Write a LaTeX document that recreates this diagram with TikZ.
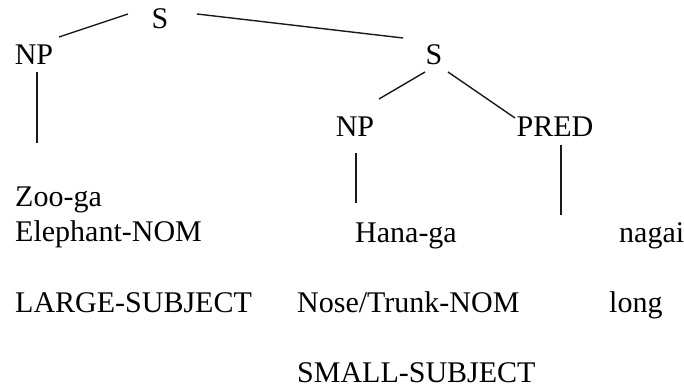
\documentclass[tikz,border=0pt]{standalone}
\usepackage{fontspec}
\setmainfont{Liberation Serif}
\usetikzlibrary{calc}
\tikzset{
  cat/.style={anchor=base, inner sep=0pt, font=\fontsize{30}{36}\selectfont},
  word/.style={anchor=base west, inner sep=0pt, font=\fontsize{30}{36}\selectfont},
  branch/.style={line width=1.4pt, color=black!90}
}

\begin{document}
\begin{tikzpicture}[x=1pt, y=1pt]
  \useasboundingbox (0,0) rectangle (684,390);

  % category labels
  \node[cat] (s0) at (160,361) {S};
  \node[cat] (np1) at (34,325) {NP};
  \node[cat] (s1) at (434,325) {S};
  \node[cat] (np2) at (355,253) {NP};
  \node[cat] (pred) at (555,253) {PRED};

  % words and glosses
  \node[word] (zoo) at (15,183) {Zoo-ga};
  \node[word] (eleph) at (15,148) {Elephant-NOM};
  \node[word] (large) at (15,77) {LARGE-SUBJECT};
  \node[word] (hana) at (355,147) {Hana-ga};
  \node[word] (nagai) at (619,147) {nagai};
  \node[word] (nose) at (297,77) {Nose/Trunk-NOM};
  \node[word] (long) at (609,77) {long};
  \node[word] (small) at (297,7) {SMALL-SUBJECT};

  % branches
  \draw[branch] ([shift={(-32,15)}]s0.base) -- ([shift={(25,28)}]np1.base);
  \draw[branch] ([shift={(37,15)}]s0.base) -- ([shift={(-31,27)}]s1.base);
  \draw[branch] ([shift={(-9,-7)}]s1.base) -- ([shift={(24,38)}]np2.base);
  \draw[branch] ([shift={(14,-7)}]s1.base) -- ([shift={(-40,19)}]pred.base);

  % stems down to the words
  \draw[branch] ([shift={(3,-7)}]np1.base) -- ($(np1.base |- zoo.north)+(3,44)$);
  \draw[branch] ([shift={(1,-16)}]np2.base) -- ($(np2.base |- hana.north)+(1,20)$);
  \draw[branch] ([shift={(6,-8)}]pred.base) -- ($(pred.base |- nagai.north)+(6,8)$);
\end{tikzpicture}
\end{document}
